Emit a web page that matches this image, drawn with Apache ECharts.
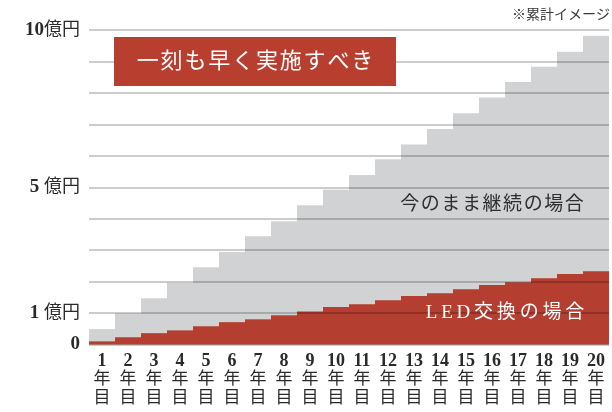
<!DOCTYPE html>
<html>
<head>
<meta charset="utf-8">
<script src="https://cdn.jsdelivr.net/npm/echarts@6/dist/echarts.min.js"></script>
<style>
html,body{margin:0;padding:0;background:#fff;}
#chart{width:612px;height:412px;}
</style>
</head>
<body>
<div id="chart"></div>
<script>
// ---- data ----
const years = ['1','2','3','4','5','6','7','8','9','10','11','12','13','14','15','16','17','18','19','20'];
const currentCost = [0.49, 0.99, 1.47, 1.96, 2.46, 2.94, 3.44, 3.92, 4.43, 4.92, 5.39, 5.89, 6.36, 6.85, 7.35, 7.85, 8.35, 8.83, 9.31, 9.82];
const ledCost = [0.10, 0.23, 0.36, 0.45, 0.58, 0.71, 0.80, 0.93, 1.05, 1.19, 1.28, 1.41, 1.54, 1.63, 1.76, 1.89, 1.98, 2.11, 2.24, 2.33];
const yLabelValues = [0, 1, 5, 10];
const yLabelNums = ['0', '1 ', '5 ', '10'];
const yLabelUnits = ['', '億円', '億円', '億円'];
const seriesNames = ['今のまま継続の場合', 'LED交換の場合'];
const headline = '一刻も早く実施すべき';
const note = '※累計イメージ';

const SERIF = '"Liberation Serif", "DejaVu Serif", "Noto Sans CJK JP", serif';

const chart = echarts.init(document.getElementById('chart'), null, {renderer: 'canvas'});
chart.setOption({
  animation: false,
  backgroundColor: '#ffffff',
  grid: {left: 89, right: 3, top: 30, bottom: 67.5, containLabel: false},
  xAxis: {
    type: 'category',
    data: years,
    boundaryGap: true,
    axisLine: {show: false},
    axisTick: {show: false},
    axisLabel: {
      interval: 0,
      margin: 7,
      color: '#222',
      fontFamily: SERIF,
      fontSize: 17,
      lineHeight: 19,
      formatter: v => '{n|' + v + '}\n{k|年}\n{k|目}',
      rich: {
        n: {fontFamily: SERIF, fontSize: 18, fontWeight: 'bold', color: '#2a2a2a', lineHeight: 19},
        k: {fontFamily: SERIF, fontSize: 17, color: '#2a2a2a', lineHeight: 19}
      }
    }
  },
  yAxis: {
    type: 'value',
    min: 0, max: 10, interval: 1,
    z: 5,
    axisLine: {show: false},
    axisTick: {show: false},
    splitLine: {show: true, lineStyle: {color: 'rgba(0,0,0,0.27)', width: 1.5}},
    axisLabel: {
      margin: 9,
      color: '#222',
      fontFamily: SERIF,
      fontSize: 17,
      formatter: v => {
        const i = yLabelValues.indexOf(v);
        if (i < 0) return '';
        return '{n|' + yLabelNums[i] + '}' + (yLabelUnits[i] ? '{k|' + yLabelUnits[i] + '}' : '');
      },
      rich: {
        n: {fontFamily: SERIF, fontSize: 19, fontWeight: 'bold', color: '#2a2a2a'},
        k: {fontFamily: SERIF, fontSize: 18, color: '#2a2a2a'}
      }
    }
  },
  series: [
    {
      name: seriesNames[0],
      type: 'bar',
      data: currentCost,
      barWidth: '100%',
      barGap: '-100%',
      barCategoryGap: 0,
      z: 1,
      itemStyle: {color: '#d1d2d4'}
    },
    {
      name: seriesNames[1],
      type: 'bar',
      data: ledCost,
      barWidth: '100%',
      barGap: '-100%',
      barCategoryGap: 0,
      z: 2,
      itemStyle: {color: '#b43e30'}
    }
  ],
  graphic: [
    {
      type: 'rect',
      shape: {x: 114, y: 37, width: 282, height: 49},
      style: {fill: '#b83f2f'},
      z: 10
    },
    {
      type: 'text',
      x: 255, y: 62,
      z: 11,
      style: {
        text: headline.split('').join('\u200a'),
        fill: '#ffffff',
        font: '22px ' + SERIF,
        align: 'center',
        verticalAlign: 'middle'
      }
    },
    {
      type: 'text',
      x: 610, y: 15,
      z: 11,
      style: {
        text: note,
        fill: '#3a3a3a',
        font: '14px ' + SERIF,
        align: 'right',
        verticalAlign: 'middle'
      }
    },
    {
      type: 'text',
      x: 492, y: 205,
      z: 11,
      style: {
        text: seriesNames[0].split('').join('\u200a'),
        fill: '#2e2e2e',
        font: '19px ' + SERIF,
        align: 'center',
        verticalAlign: 'middle'
      }
    },
    {
      type: 'text',
      x: 505, y: 313,
      z: 11,
      style: {
        text: seriesNames[1].split('').join('\u2009'),
        fill: '#ffffff',
        font: '19px ' + SERIF,
        align: 'center',
        verticalAlign: 'middle'
      }
    }
  ]
});
</script>
</body>
</html>
